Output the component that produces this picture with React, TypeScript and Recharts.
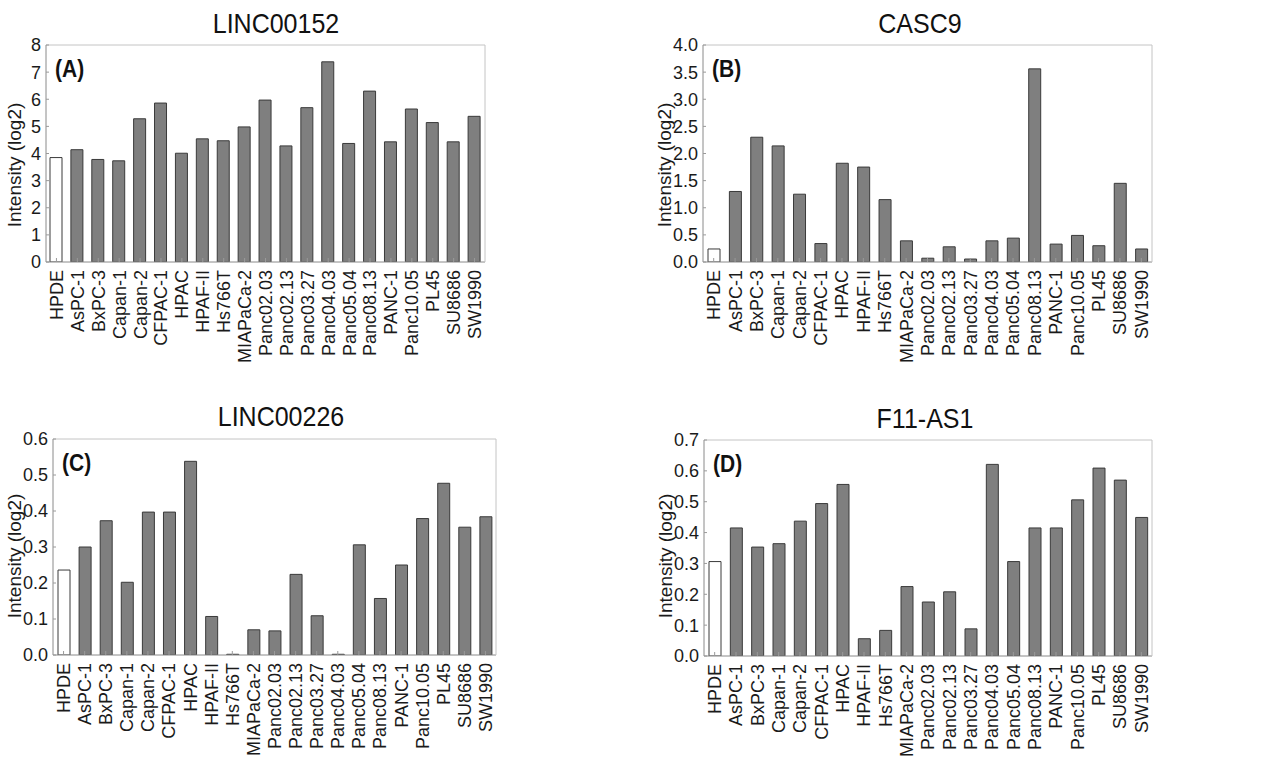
import React from 'react';
import { BarChart, Bar, XAxis, YAxis, Cell } from 'recharts';

// cell lines on the x axis (same order in all four panels)
const cellLines = [
    'HPDE', 'AsPC-1', 'BxPC-3', 'Capan-1', 'Capan-2', 'CFPAC-1', 'HPAC', 'HPAF-II', 'Hs766T',
    'MIAPaCa-2', 'Panc02.03', 'Panc02.13', 'Panc03.27', 'Panc04.03', 'Panc05.04', 'Panc08.13',
    'PANC-1', 'Panc10.05', 'PL45', 'SU8686', 'SW1990',
];

// intensity (log2)
const linc00152 = [3.85, 4.14, 3.78, 3.73, 5.28, 5.86, 4.01, 4.54, 4.47, 4.98, 5.97, 4.28, 5.69, 7.38, 4.37, 6.3, 4.43, 5.64, 5.14, 4.43, 5.37];
const casc9 = [0.24, 1.3, 2.3, 2.14, 1.25, 0.34, 1.82, 1.75, 1.15, 0.39, 0.07, 0.28, 0.055, 0.39, 0.44, 3.56, 0.33, 0.49, 0.3, 1.45, 0.24];
const linc00226 = [0.236, 0.3, 0.373, 0.202, 0.397, 0.397, 0.538, 0.107, 0.002, 0.07, 0.067, 0.224, 0.109, 0.002, 0.306, 0.157, 0.25, 0.379, 0.477, 0.355, 0.384];
const f11as1 = [0.306, 0.415, 0.353, 0.364, 0.437, 0.494, 0.556, 0.056, 0.083, 0.225, 0.175, 0.208, 0.088, 0.621, 0.306, 0.415, 0.415, 0.506, 0.609, 0.57, 0.449];

// y ticks per panel
const ticksA = [0, 1, 2, 3, 4, 5, 6, 7, 8];
const ticksB = [0, 0.5, 1, 1.5, 2, 2.5, 3, 3.5, 4];
const ticksC = [0, 0.1, 0.2, 0.3, 0.4, 0.5, 0.6];
const ticksD = [0, 0.1, 0.2, 0.3, 0.4, 0.5, 0.6, 0.7];

const FONT = '"Liberation Sans", Arial, Helvetica, sans-serif';
const TEXT = '#1a1a1a';
const Y_W = 60;
const X_H = 110;
const TOP = 15;

const RotatedTick = (props: any) => {
    const { x, y, payload } = props;
    return (
        <text
            x={x}
            y={y}
            transform={`rotate(-90, ${x}, ${y})`}
            textAnchor="end"
            dy="0.36em"
            fontSize={18}
            fontFamily={FONT}
            fill={TEXT}
        >
            {payload.value}
        </text>
    );
};

interface PanelProps {
    title: string;
    tag: string;
    values: number[];
    ticks: number[];
    decimals: number;
    plot: { x: number; y: number; w: number; h: number };
    titleAt: [number, number];
    ylabelX: number;
    ylabelY: number;
}

const Panel: React.FC<PanelProps> = ({ title, tag, values, ticks, decimals, plot, titleAt, ylabelX, ylabelY }) => {
    const data = cellLines.map((name, i) => ({ name, value: values[i] }));
    const max = ticks[ticks.length - 1];
    const chartLeft = plot.x - Y_W;
    const chartTop = plot.y - TOP - 1;

    return (
        <>
            <div
                style={{
                    position: 'absolute', left: titleAt[0], top: titleAt[1],
                    transform: 'translate(-50%, -50%) scaleY(1.12)', fontSize: 25, fontFamily: FONT,
                    color: '#111', whiteSpace: 'nowrap', lineHeight: 1,
                }}
            >
                {title}
            </div>
            <div
                style={{
                    position: 'absolute', left: ylabelX, top: ylabelY,
                    transform: 'translate(-50%, -50%) rotate(-90deg)', fontSize: 19, fontFamily: FONT,
                    color: TEXT, whiteSpace: 'nowrap', lineHeight: 1,
                }}
            >
                Intensity (log2)
            </div>
            <div style={{ position: 'absolute', left: chartLeft, top: chartTop }}>
                <BarChart
                    width={Y_W + plot.w + 1 + 5}
                    height={TOP + 1 + plot.h + X_H}
                    data={data}
                    margin={{ top: TOP, right: 5, left: 0, bottom: 0 }}
                    barSize={12}
                >
                    <XAxis
                        dataKey="name"
                        height={X_H}
                        interval={0}
                        tick={<RotatedTick />}
                        tickSize={-4}
                        tickMargin={12}
                        axisLine={{ stroke: '#8a8a8a' }}
                        tickLine={{ stroke: '#9a9a9a' }}
                    />
                    <XAxis
                        xAxisId="top"
                        dataKey="name"
                        orientation="top"
                        height={1}
                        interval={0}
                        tick={false}
                        tickSize={-4}
                        axisLine={{ stroke: '#c4c4c4' }}
                        tickLine={{ stroke: '#9a9a9a' }}
                    />
                    <YAxis
                        width={Y_W}
                        domain={[0, max]}
                        ticks={ticks}
                        interval={0}
                        allowDataOverflow
                        tickFormatter={(v: number) => v.toFixed(decimals)}
                        tick={{ fontSize: 18, fontFamily: FONT, fill: TEXT }}
                        tickSize={-3}
                        tickMargin={8}
                        axisLine={{ stroke: '#8a8a8a' }}
                        tickLine={{ stroke: '#9a9a9a' }}
                    />
                    <YAxis
                        yAxisId="right"
                        orientation="right"
                        width={1}
                        domain={[0, max]}
                        ticks={ticks}
                        interval={0}
                        allowDataOverflow
                        tick={false}
                        tickSize={-3}
                        axisLine={{ stroke: '#c4c4c4' }}
                        tickLine={{ stroke: '#9a9a9a' }}
                    />
                    <Bar dataKey="value" stroke="#3a3a3a" strokeWidth={1} isAnimationActive={false}>
                        {data.map((d, i) => (
                            <Cell key={d.name} fill={i === 0 ? '#ffffff' : '#7f7f7f'} />
                        ))}
                    </Bar>
                </BarChart>
            </div>
            <div
                style={{
                    position: 'absolute', left: plot.x + 9, top: plot.y + 24,
                    transform: 'translateY(-50%) scaleY(1.1)', fontSize: 21, fontWeight: 'bold',
                    fontFamily: FONT, color: '#111', lineHeight: 1,
                }}
            >
                {tag}
            </div>
        </>
    );
};

export default function App() {
    return (
        <div
            style={{
                position: 'absolute', left: 0, top: 0, width: 1263, height: 759,
                background: '#ffffff', overflow: 'hidden',
            }}
        >
            <Panel
                title="LINC00152" tag="(A)" values={linc00152} ticks={ticksA} decimals={0}
                plot={{ x: 46, y: 45, w: 439, h: 217 }} titleAt={[276, 23]} ylabelX={14} ylabelY={165}
            />
            <Panel
                title="CASC9" tag="(B)" values={casc9} ticks={ticksB} decimals={1}
                plot={{ x: 703, y: 45, w: 449, h: 217 }} titleAt={[920, 23]} ylabelX={664} ylabelY={165}
            />
            <Panel
                title="LINC00226" tag="(C)" values={linc00226} ticks={ticksC} decimals={1}
                plot={{ x: 53, y: 439, w: 443, h: 216 }} titleAt={[281, 416]} ylabelX={14} ylabelY={556}
            />
            <Panel
                title="F11-AS1" tag="(D)" values={f11as1} ticks={ticksD} decimals={1}
                plot={{ x: 704, y: 440, w: 448, h: 216 }} titleAt={[925, 418]} ylabelX={665} ylabelY={556}
            />
        </div>
    );
}
